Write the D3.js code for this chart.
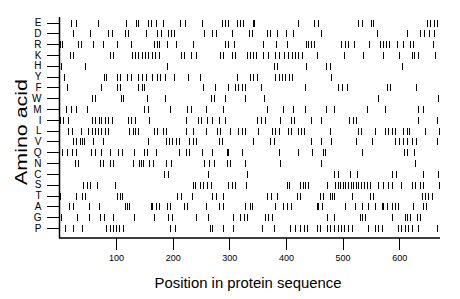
<!DOCTYPE html>
<html>
<head>
<meta charset="utf-8">
<script src="https://cdn.jsdelivr.net/npm/d3@7"></script>
<style>
  body { margin: 0; background: #fff; }
  text { font-family: "Liberation Sans", Arial, Helvetica, sans-serif; fill: #000; }
</style>
</head>
<body>
<svg class="chart" width="460" height="299"></svg>
<script>
// amino acids, top to bottom
const aminoAcids = ['E','D','R','K','H','Y','F','W','M','I','L','V','Q','N','C','S','T','A','G','P'];
const seqLength = 672;
const xTicks = [100, 200, 300, 400, 500, 600];

// positions of each residue in the sequence
const E = [20,30,68,117,135,138,157,162,171,183,213,221,252,287,293,298,314,319,324,341,344,421,450,456,527,534,550,553,649,654,661,667];
const D = [24,53,86,92,116,121,153,173,179,192,197,203,255,269,276,304,334,340,366,372,384,400,413,462,561,614,637,643,652,661];
const R = [1,5,33,38,59,77,101,127,167,172,176,190,205,235,292,298,308,360,382,401,435,439,444,450,498,504,510,520,546,566,571,577,582,596,607,619,625,660];
const K = [18,24,89,95,128,134,139,145,151,157,163,169,176,215,220,232,241,284,289,304,310,331,337,342,347,360,368,381,387,397,404,410,416,421,428,455,503,536,572,599,623,626,634,663];
const H = [2,45,190,378,384,436,471,477,605];
const Y = [8,79,82,101,107,119,126,139,145,153,164,172,178,187,202,227,249,313,337,342,348,381,387,393,398,405,411,480];
const F = [14,74,101,107,138,145,149,253,275,298,310,316,322,328,355,433,492,499,507,578,584,630];
const W = [58,62,108,112,154,187,268,273,292,328,361,563,669];
const M = [12,21,29,49,149,157,196,225,232,258,289,367,395,413,434,470,485,543,575,634,642];
const I = [1,7,15,57,63,69,74,81,86,92,121,127,133,158,223,244,250,261,269,281,292,348,356,363,390,409,415,444,462,512,518,524,634,667];
const L = [15,22,38,51,58,63,68,74,81,86,123,129,134,138,167,173,182,188,223,235,258,278,284,301,316,322,328,351,375,381,387,404,409,421,427,432,477,528,533,557,575,581,587,593,607,613,618,645,671];
const V = [23,30,36,40,44,59,77,157,188,194,199,205,211,229,235,241,281,287,342,372,378,445,462,480,524,552,592,600,607,613,622,630,667];
const Q = [4,13,22,30,56,63,74,89,104,110,132,149,155,170,211,223,229,252,269,295,298,322,387,421,446,465,469,534,608,614,626];
const N = [27,33,71,77,89,95,130,141,144,148,158,166,188,197,255,264,272,296,301,328,390,462,628];
const C = [185,192,262,331,484,492,513,525,587,595,642,668];
const S = [42,48,54,66,98,236,240,249,254,261,267,298,304,310,330,401,406,425,430,434,439,472,487,491,495,501,505,510,514,518,523,527,532,538,543,548,563,572,581,587,604,622,628,637,642,671];
const T = [1,30,39,45,101,106,111,208,214,234,269,276,289,367,374,384,420,425,460,466,478,481,484,516,548,554,640,645,651,657];
const A = [17,23,52,70,116,119,123,161,164,170,176,190,195,220,226,258,281,289,328,337,340,381,395,402,409,454,457,463,504,522,534,545,557,569,572,578,587,592,598,625,642,648];
const G = [2,31,52,72,78,95,132,167,192,198,241,262,306,319,325,331,363,369,375,472,484,531,534,540,587,610,613,619,631,637];
const P = [10,23,39,83,89,94,100,105,112,195,204,265,269,288,307,357,378,407,416,425,431,437,454,460,472,478,485,491,497,503,510,516,545,557,563,569,598,604,610,616,622,634,667];

const residues = {E, D, R, K, H, Y, F, W, M, I, L, V, Q, N, C, S, T, A, G, P};

// flatten to one mark per residue occurrence
const marks = [];
aminoAcids.forEach(aa => residues[aa].forEach(pos => marks.push({aa, pos})));

const svg = d3.select('.chart');

const x = d3.scaleLinear().domain([0, seqLength]).range([59.5, 440]);
const y = d3.scalePoint().domain(aminoAcids).range([22.5, 228]);

const plotTop = 17, plotBottom = 238;

// residue ticks
svg.append('g')
  .attr('shape-rendering', 'crispEdges')
  .selectAll('line').data(marks)
  .enter().append('line')
  .attr('x1', d => Math.round(x(d.pos)) + 0.5)
  .attr('x2', d => Math.round(x(d.pos)) + 0.5)
  .attr('y1', d => Math.round(y(d.aa)) - 3)
  .attr('y2', d => Math.round(y(d.aa)) + 4)
  .attr('stroke', '#000')
  .attr('stroke-width', 1);

// axes
const xAxis = svg.append('g')
  .attr('transform', `translate(0,${plotBottom})`)
  .call(d3.axisBottom(x).tickValues(xTicks).tickSize(12).tickPadding(5).tickSizeOuter(0));
xAxis.select('.domain').remove();
xAxis.selectAll('text').attr('font-size', 9).attr('font-family', null);

const yAxis = svg.append('g')
  .attr('transform', `translate(${x(0)},0)`)
  .call(d3.axisLeft(y).tickSize(13).tickPadding(5).tickSizeOuter(0));
yAxis.select('.domain').remove();
yAxis.selectAll('text').attr('font-size', 10).attr('font-family', null);
svg.selectAll('.tick line').attr('stroke', '#000').attr('shape-rendering', 'crispEdges');

// L-shaped frame
svg.append('path')
  .attr('d', `M${x(0)},${plotTop}V${plotBottom}H${x(seqLength)}`)
  .attr('fill', 'none')
  .attr('stroke', '#000')
  .attr('stroke-width', 1.5);

// titles
svg.append('text')
  .attr('x', 248).attr('y', 288)
  .attr('text-anchor', 'middle')
  .attr('font-size', 14)
  .attr('textLength', 187)
  .attr('lengthAdjust', 'spacingAndGlyphs')
  .text('Position in protein sequence');

svg.append('text')
  .attr('transform', 'translate(27,132) rotate(-90)')
  .attr('text-anchor', 'middle')
  .attr('font-size', 16)
  .attr('textLength', 106)
  .attr('lengthAdjust', 'spacingAndGlyphs')
  .text('Amino acid');
</script>
</body>
</html>
